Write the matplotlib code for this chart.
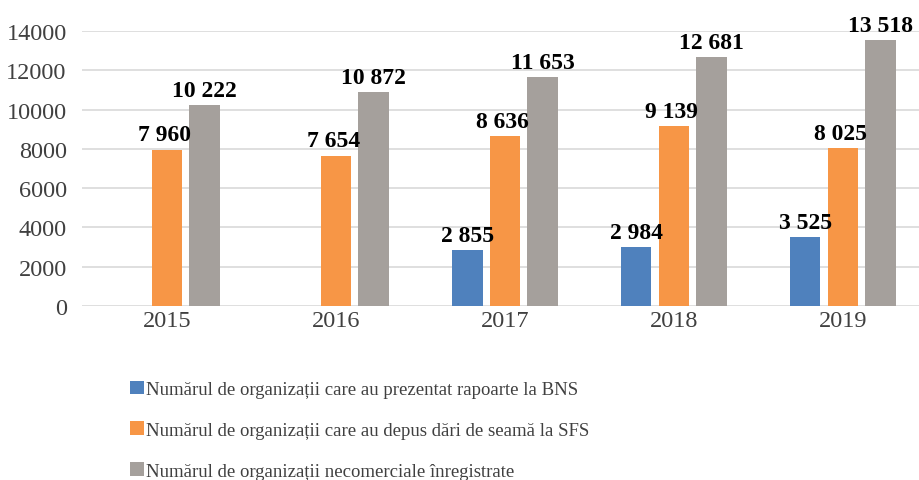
import matplotlib
matplotlib.use("Agg")
import matplotlib.pyplot as plt
import numpy as np

years = ["2015", "2016", "2017", "2018", "2019"]
bns = [None, None, 2855, 2984, 3525]
sfs = [7960, 7654, 8636, 9139, 8025]
registered = [10222, 10872, 11653, 12681, 13518]
series_names = [
    "Numărul de organizații care au prezentat rapoarte la BNS",
    "Numărul de organizații care au depus dări de seamă la SFS",
    "Numărul de organizații necomerciale înregistrate",
]
colors = ["#4F81BD", "#F79646", "#A5A09C"]
yticks = [0, 2000, 4000, 6000, 8000, 10000, 12000, 14000]

plt.rcParams["font.family"] = ["Liberation Serif", "DejaVu Serif"]

fig = plt.figure(figsize=(9.19, 4.81), dpi=100)
ax = fig.add_axes([82 / 919, 1 - 307 / 481, 1 - 82 / 919, (307 - 32) / 481])

x = np.arange(len(years))
w = 0.178
step = 0.222
handles = []
for i, (vals, col, name) in enumerate(zip([bns, sfs, registered], colors, series_names)):
    off = (i - 1) * step
    xs = [xi + off for xi, v in zip(x, vals) if v is not None]
    vs = [v for v in vals if v is not None]
    bars = ax.bar(xs, vs, width=w, color=col, label=name, zorder=3)
    handles.append(bars)
    for xi, v in zip(xs, vs):
        lab = f"{v:,}".replace(",", " ")
        ax.annotate(lab, (xi, v), xytext=(-2 if i == 1 else 0, 3), textcoords="offset points",
                    ha="center", va="bottom", fontsize=17, fontweight="bold",
                    color="black", annotation_clip=False, zorder=4)

ax.set_xlim(-0.503, 4.45)
ax.set_ylim(0, 14000)
ax.set_yticks(yticks)
ax.set_yticklabels([str(t) for t in yticks])
ax.set_xticks(x)
ax.set_xticklabels(years)
ax.yaxis.grid(True, color="#D9D9D9", lw=1.2, zorder=0)
ax.set_axisbelow(True)
for s in ax.spines.values():
    s.set_visible(False)
ax.tick_params(axis="both", length=0, labelsize=17.5, colors="#404040")
ax.tick_params(axis="y", pad=11)
ax.tick_params(axis="x", pad=3)

leg = fig.legend(handles=handles, labels=series_names, loc="upper left",
                 bbox_to_anchor=(122 / 919, 1 - 374 / 481), frameon=False,
                 fontsize=13.5, handlelength=0.75, handleheight=0.75,
                 handletextpad=0.15, labelspacing=1.25, borderaxespad=0)
for t in leg.get_texts():
    t.set_color("#404040")

fig.savefig("out.png", dpi=100)
